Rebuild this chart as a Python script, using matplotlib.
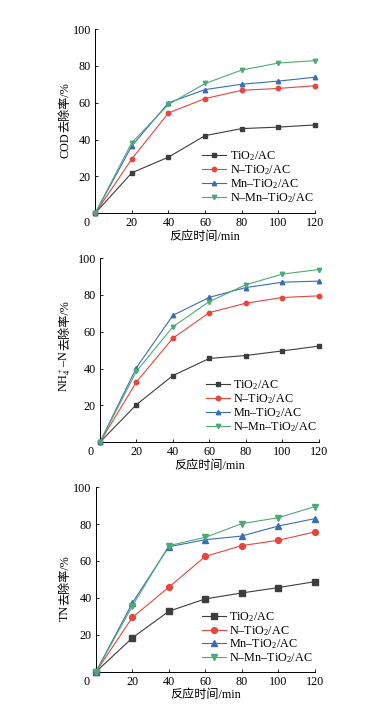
import numpy as np
import matplotlib
matplotlib.use("Agg")
import matplotlib.pyplot as plt

plt.rcParams['font.family'] = ['Liberation Serif', 'Noto Sans CJK SC']
plt.rcParams['mathtext.fontset'] = 'custom'
plt.rcParams['mathtext.rm'] = 'Liberation Serif'
plt.rcParams['mathtext.it'] = 'Liberation Serif:italic'

# ===============================
# Datos
# ===============================
t = [0, 20, 40, 60, 80, 100, 120]

series_names = ["TiO$_2$/AC", "N–TiO$_2$/AC", "Mn–TiO$_2$/AC", "N–Mn–TiO$_2$/AC"]

cod_tio2 = [0, 22.0, 30.5, 42.2, 46.0, 46.8, 48.0]
cod_n = [0, 29.5, 54.5, 62.3, 66.8, 67.8, 69.3]
cod_mn = [0, 36.6, 60.0, 67.2, 70.1, 71.8, 73.9]
cod_nmn = [0, 38.4, 59.1, 70.5, 77.8, 81.6, 82.9]

nh4_tio2 = [0, 20.4, 36.2, 45.5, 47.1, 49.6, 52.2]
nh4_n = [0, 32.7, 56.5, 70.4, 75.5, 78.6, 79.5]
nh4_mn = [0, 40.5, 68.9, 78.7, 84.0, 86.9, 87.5]
nh4_nmn = [0, 38.5, 62.7, 76.4, 85.5, 91.3, 93.8]

tn_tio2 = [0, 18.4, 32.8, 39.5, 42.7, 45.6, 48.8]
tn_n = [0, 29.5, 45.8, 62.5, 68.3, 71.2, 75.7]
tn_mn = [0, 37.3, 67.7, 71.5, 73.5, 78.9, 82.9]
tn_nmn = [0, 35.7, 68.3, 72.8, 80.2, 83.4, 89.4]

# (parte química, parte en chino)
ylabels = [("COD", "去除率/%"), ("NH$_4^+$–N", "去除率/%"), ("TN", "去除率/%")]
xlabel = "反应时间/min"

colors = ["#3d3d3d", "#e5463d", "#3a6db5", "#4daa78"]
markers = ["s", "o", "^", "v"]

panels = [
    [cod_tio2, cod_n, cod_mn, cod_nmn],
    [nh4_tio2, nh4_n, nh4_mn, nh4_nmn],
    [tn_tio2, tn_n, tn_mn, tn_nmn],
]

# ===============================
# Plot
# ===============================
fig = plt.figure(figsize=(3.66, 7.11), dpi=100)
boxes = [
    [0.260, 0.700, 0.601, 0.259],
    [0.273, 0.378, 0.598, 0.259],
    [0.262, 0.055, 0.598, 0.260],
]
msizes = [3.2, 3.2, 4.2]
# anclaje del ylabel (x en px desde el eje, y en fracción del eje)
ylab_anchor = [(-30, 0.44), (-35, 0.50), (-31, 0.36)]
leg_anchor = [(1.03, 0.0), (1.03, 0.0), (1.03, -0.01)]
fs = 8.7

for box, data, ylab, ms, ya, la in zip(boxes, panels, ylabels, msizes,
                                       ylab_anchor, leg_anchor):
    ax = fig.add_axes(box)
    for vals, name, c, m in zip(data, series_names, colors, markers):
        ax.plot(t, vals, color=c, marker=m, markersize=ms, lw=0.8, label=name)
    ax.set_xlim(0, 120)
    ax.set_ylim(0, 100)
    ax.set_xticks([20, 40, 60, 80, 100, 120])
    ax.set_yticks([20, 40, 60, 80, 100])
    ax.tick_params(direction="in", length=2.5, width=0.6, labelsize=fs, pad=3)
    ax.spines["top"].set_visible(False)
    ax.spines["right"].set_visible(False)
    for s in ["left", "bottom"]:
        ax.spines[s].set_linewidth(0.7)
    ax.annotate("0", xy=(0, 0), xycoords="data", xytext=(-6.5, -3),
                textcoords="offset points", ha="center", va="top", fontsize=fs)

    # ylabel en dos partes (mathtext no tiene glifos CJK)
    ax.annotate(ylab[0], xy=(0, ya[1]), xycoords="axes fraction",
                xytext=(ya[0], 0), textcoords="offset pixels",
                rotation=90, rotation_mode="anchor", ha="right", va="center",
                fontsize=fs)
    ax.annotate(ylab[1], xy=(0, ya[1]), xycoords="axes fraction",
                xytext=(ya[0], 0), textcoords="offset pixels",
                rotation=90, rotation_mode="anchor", ha="left", va="center",
                fontsize=fs)

    ax.set_xlabel(xlabel, fontsize=fs, labelpad=1)
    for sp in ax.spines.values():
        sp.set_zorder(0)
    ax.legend(loc="lower right", bbox_to_anchor=la, frameon=False,
              fontsize=fs, handlelength=2.0, handletextpad=0.3,
              labelspacing=0.0, borderaxespad=0.3)
    for ln in ax.lines:
        ln.set_clip_on(False)

plt.savefig("out.png", dpi=100)
